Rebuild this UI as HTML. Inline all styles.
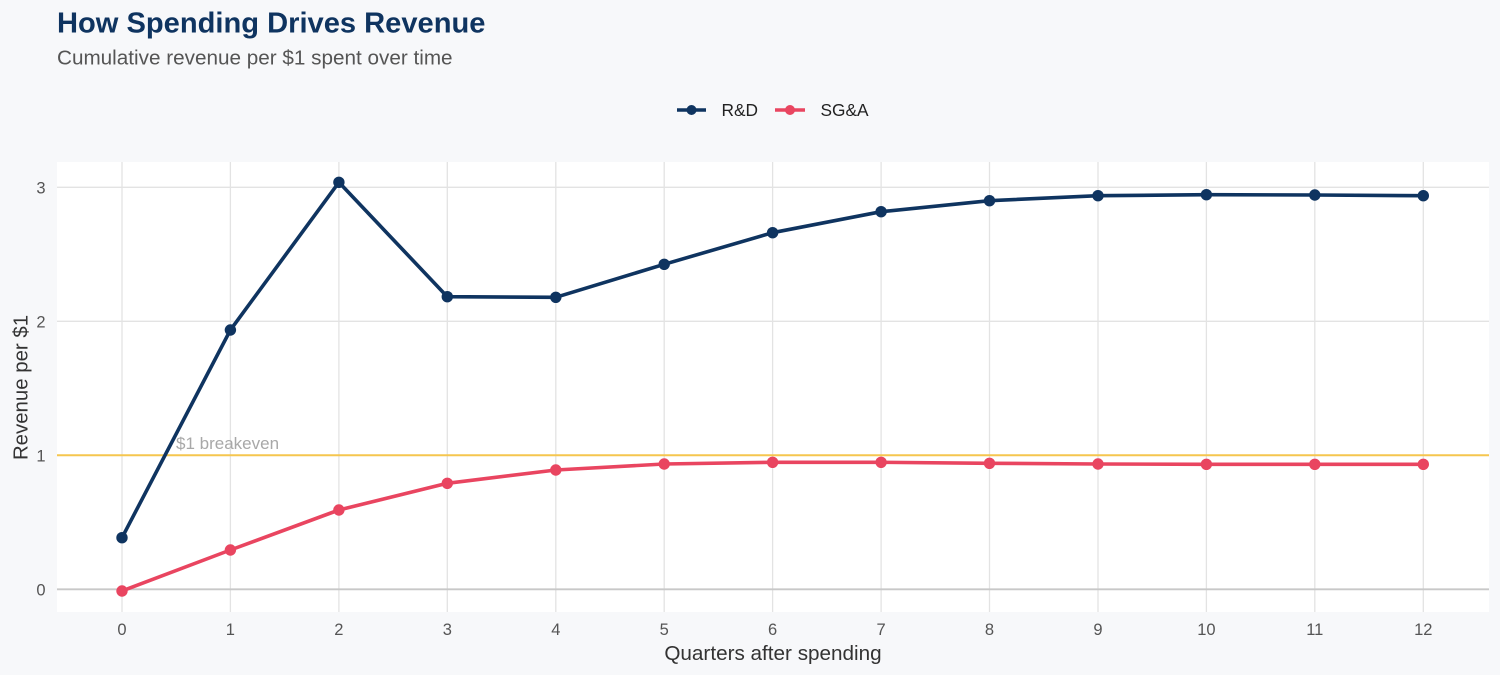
<!DOCTYPE html>
<html>
<head>
<meta charset="utf-8">
<style>
  html,body{margin:0;padding:0;background:#f7f8fa;}
  body{width:1500px;height:675px;overflow:hidden;}
  svg{display:block;font-family:"Liberation Sans",Arial,sans-serif;}
</style>
</head>
<body>
<svg width="1500" height="675" viewBox="0 0 1500 675" xmlns="http://www.w3.org/2000/svg">
  <rect x="0" y="0" width="1500" height="675" fill="#f7f8fa"/>
  <!-- Title -->
  <text x="57" y="32.3" font-size="29.1" font-weight="bold" fill="#0f3460">How Spending Drives Revenue</text>
  <text x="57" y="64.3" font-size="20.7" fill="#555555">Cumulative revenue per $1 spent over time</text>

  <!-- Legend -->
  <line x1="677" y1="110" x2="706" y2="110" stroke="#0f3460" stroke-width="3.5"/>
  <circle cx="691.5" cy="110" r="5" fill="#0f3460"/>
  <text x="721.5" y="116" font-size="17.3" fill="#222">R&amp;D</text>
  <line x1="775" y1="110" x2="805" y2="110" stroke="#e94560" stroke-width="3.5"/>
  <circle cx="790" cy="110" r="5" fill="#e94560"/>
  <text x="820.5" y="116" font-size="17.3" fill="#222">SG&amp;A</text>

  <!-- Panel -->
  <rect x="57" y="162" width="1432" height="450" fill="#ffffff"/>
  <g stroke="#e3e3e3" stroke-width="1.3">
    <line x1="122" y1="162" x2="122" y2="612"/>
    <line x1="230.4" y1="162" x2="230.4" y2="612"/>
    <line x1="338.9" y1="162" x2="338.9" y2="612"/>
    <line x1="447.3" y1="162" x2="447.3" y2="612"/>
    <line x1="555.8" y1="162" x2="555.8" y2="612"/>
    <line x1="664.2" y1="162" x2="664.2" y2="612"/>
    <line x1="772.6" y1="162" x2="772.6" y2="612"/>
    <line x1="881.1" y1="162" x2="881.1" y2="612"/>
    <line x1="989.5" y1="162" x2="989.5" y2="612"/>
    <line x1="1098" y1="162" x2="1098" y2="612"/>
    <line x1="1206.4" y1="162" x2="1206.4" y2="612"/>
    <line x1="1314.8" y1="162" x2="1314.8" y2="612"/>
    <line x1="1423.3" y1="162" x2="1423.3" y2="612"/>
    <line x1="57" y1="187.3" x2="1489" y2="187.3"/>
    <line x1="57" y1="321.3" x2="1489" y2="321.3"/>
    <line x1="57" y1="455.3" x2="1489" y2="455.3"/>
  </g>
  <line x1="57" y1="589.3" x2="1489" y2="589.3" stroke="#c8c8c8" stroke-width="1.8"/>
  <line x1="57" y1="455.3" x2="1489" y2="455.3" stroke="#f5c64f" stroke-width="2"/>
  <text x="176" y="449" font-size="17" fill="#a8a8a8">$1 breakeven</text>

  <!-- SG&A -->
  <polyline fill="none" stroke="#e94560" stroke-width="3.6" stroke-linejoin="round"
    points="122,591 230.4,550 338.9,510 447.3,483.3 555.8,470 664.2,464 772.6,462.3 881.1,462.3 989.5,463.3 1098,464 1206.4,464.3 1314.8,464.3 1423.3,464.3"/>
  <g fill="#e94560">
    <circle cx="122" cy="591" r="5.7"/>
    <circle cx="230.4" cy="550" r="5.7"/>
    <circle cx="338.9" cy="510" r="5.7"/>
    <circle cx="447.3" cy="483.3" r="5.7"/>
    <circle cx="555.8" cy="470" r="5.7"/>
    <circle cx="664.2" cy="464" r="5.7"/>
    <circle cx="772.6" cy="462.3" r="5.7"/>
    <circle cx="881.1" cy="462.3" r="5.7"/>
    <circle cx="989.5" cy="463.3" r="5.7"/>
    <circle cx="1098" cy="464" r="5.7"/>
    <circle cx="1206.4" cy="464.3" r="5.7"/>
    <circle cx="1314.8" cy="464.3" r="5.7"/>
    <circle cx="1423.3" cy="464.3" r="5.7"/>
  </g>

  <!-- R&D -->
  <polyline fill="none" stroke="#0f3460" stroke-width="3.6" stroke-linejoin="round"
    points="122,537.7 230.4,330 338.9,182.3 447.3,296.7 555.8,297.3 664.2,264.3 772.6,232.7 881.1,211.7 989.5,200.7 1098,195.7 1206.4,194.7 1314.8,195 1423.3,195.7"/>
  <g fill="#0f3460">
    <circle cx="122" cy="537.7" r="5.7"/>
    <circle cx="230.4" cy="330" r="5.7"/>
    <circle cx="338.9" cy="182.3" r="5.7"/>
    <circle cx="447.3" cy="296.7" r="5.7"/>
    <circle cx="555.8" cy="297.3" r="5.7"/>
    <circle cx="664.2" cy="264.3" r="5.7"/>
    <circle cx="772.6" cy="232.7" r="5.7"/>
    <circle cx="881.1" cy="211.7" r="5.7"/>
    <circle cx="989.5" cy="200.7" r="5.7"/>
    <circle cx="1098" cy="195.7" r="5.7"/>
    <circle cx="1206.4" cy="194.7" r="5.7"/>
    <circle cx="1314.8" cy="195" r="5.7"/>
    <circle cx="1423.3" cy="195.7" r="5.7"/>
  </g>

  <!-- Y tick labels -->
  <g font-size="16.5" fill="#555555" text-anchor="end">
    <text x="45.5" y="193.3">3</text>
    <text x="45.5" y="327.3">2</text>
    <text x="45.5" y="461.3">1</text>
    <text x="45.5" y="595.3">0</text>
  </g>
  <!-- X tick labels -->
  <g font-size="16.5" fill="#555555" text-anchor="middle">
    <text x="122" y="635">0</text>
    <text x="230.4" y="635">1</text>
    <text x="338.9" y="635">2</text>
    <text x="447.3" y="635">3</text>
    <text x="555.8" y="635">4</text>
    <text x="664.2" y="635">5</text>
    <text x="772.6" y="635">6</text>
    <text x="881.1" y="635">7</text>
    <text x="989.5" y="635">8</text>
    <text x="1098" y="635">9</text>
    <text x="1206.4" y="635">10</text>
    <text x="1314.8" y="635">11</text>
    <text x="1423.3" y="635">12</text>
  </g>

  <!-- Axis titles -->
  <text x="773" y="660" font-size="20.7" fill="#333333" text-anchor="middle">Quarters after spending</text>
  <text transform="translate(27.5,387.5) rotate(-90)" font-size="20.4" fill="#333333" text-anchor="middle">Revenue per $1</text>
</svg>
</body>
</html>
